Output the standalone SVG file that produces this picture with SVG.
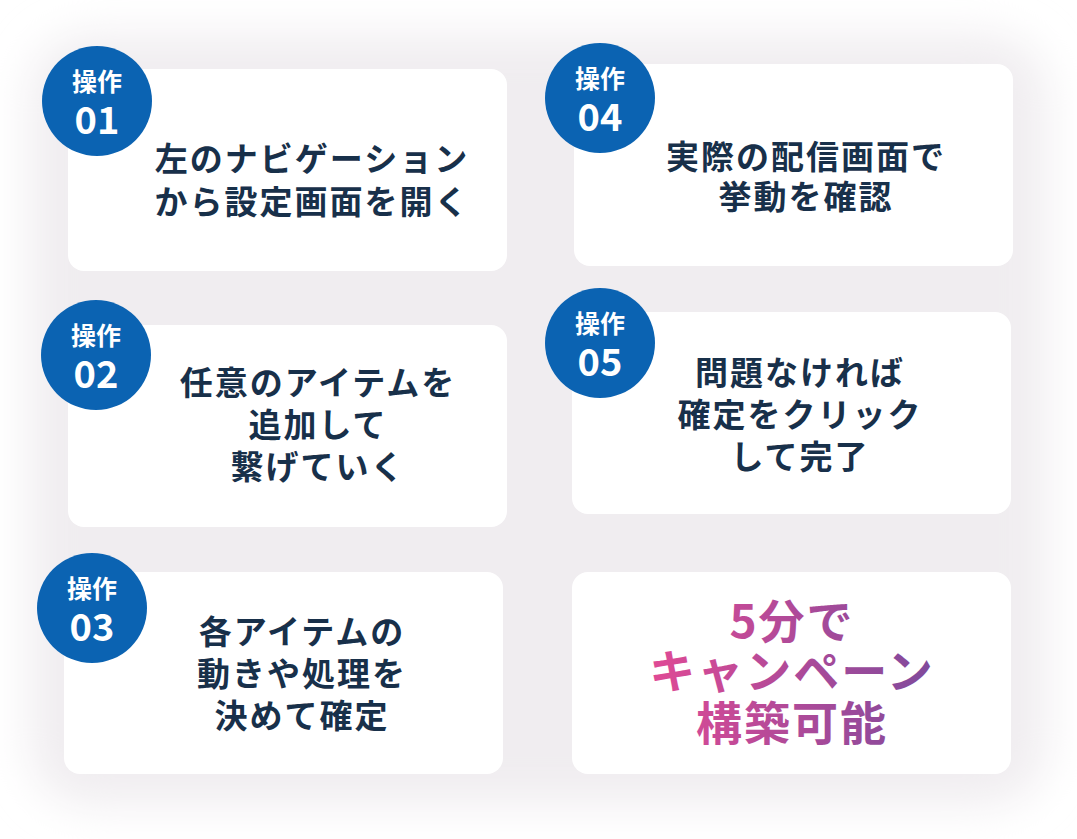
<svg xmlns="http://www.w3.org/2000/svg" width="1077" height="839" viewBox="0 0 1077 839">
<defs>
<filter id="bl" x="-20%" y="-20%" width="140%" height="140%"><feGaussianBlur stdDeviation="22"/></filter>
<linearGradient id="gr" x1="650" y1="0" x2="940" y2="0" gradientUnits="userSpaceOnUse"><stop offset="0" stop-color="#e04a95"/><stop offset="1" stop-color="#7d4a9c"/></linearGradient>
</defs>
<style>
.card{fill:#fff}
.b{fill:#0b63b2}
.bt{font-family:"Noto Sans CJK JP",sans-serif;font-weight:700;fill:#fff;text-anchor:middle}
.t{font-family:"Noto Sans CJK JP",sans-serif;font-weight:700;font-size:33px;letter-spacing:2px;fill:#18304a;text-anchor:middle}
.g{font-family:"Noto Sans CJK JP",sans-serif;font-weight:700;font-size:46px;letter-spacing:2px;fill:url(#gr);text-anchor:middle}
</style>
<rect width="1077" height="839" fill="#fff"/>
<rect x="30" y="35" width="1017" height="770" rx="60" fill="#f0edf0" filter="url(#bl)"/>
<g id="n1"><rect class="card" x="68" y="69" width="439" height="202" rx="16"/><circle class="b" cx="97" cy="101" r="55"/><text class="bt" x="97" y="91" font-size="25">操作</text><text class="bt" x="97" y="134" font-size="38">01</text><text class="t" x="312" y="171">左のナビゲーション</text><text class="t" x="312" y="214">から設定画面を開く</text></g>
<g id="n4"><rect class="card" x="574" y="64" width="439" height="202" rx="16"/><circle class="b" cx="600" cy="98" r="55"/><text class="bt" x="600" y="88" font-size="25">操作</text><text class="bt" x="600" y="131" font-size="38">04</text><text class="t" x="806" y="169">実際の配信画面で</text><text class="t" x="806" y="209">挙動を確認</text></g>
<g id="n2"><rect class="card" x="68" y="325" width="439" height="202" rx="16"/><circle class="b" cx="96" cy="355" r="55"/><text class="bt" x="96" y="345" font-size="25">操作</text><text class="bt" x="96" y="388" font-size="38">02</text><text class="t" x="318" y="395">任意のアイテムを</text><text class="t" x="318" y="437">追加して</text><text class="t" x="318" y="479">繋げていく</text></g>
<g id="n5"><rect class="card" x="572" y="312" width="439" height="202" rx="16"/><circle class="b" cx="600" cy="343" r="55"/><text class="bt" x="600" y="333" font-size="25">操作</text><text class="bt" x="600" y="376" font-size="38">05</text><text class="t" x="800" y="385">問題なければ</text><text class="t" x="800" y="427">確定をクリック</text><text class="t" x="800" y="469">して完了</text></g>
<g id="n3"><rect class="card" x="64" y="572" width="439" height="202" rx="16"/><circle class="b" cx="92" cy="608" r="55"/><text class="bt" x="92" y="598" font-size="25">操作</text><text class="bt" x="92" y="641" font-size="38">03</text><text class="t" x="302" y="644">各アイテムの</text><text class="t" x="302" y="686">動きや処理を</text><text class="t" x="302" y="728">決めて確定</text></g>
<g id="n6"><rect class="card" x="572" y="572" width="439" height="202" rx="16"/><text class="g" x="792" y="638">5分で</text><text class="g" x="792" y="688">キャンペーン</text><text class="g" x="792" y="740">構築可能</text></g>
<g id="connectors"/>
</svg>
